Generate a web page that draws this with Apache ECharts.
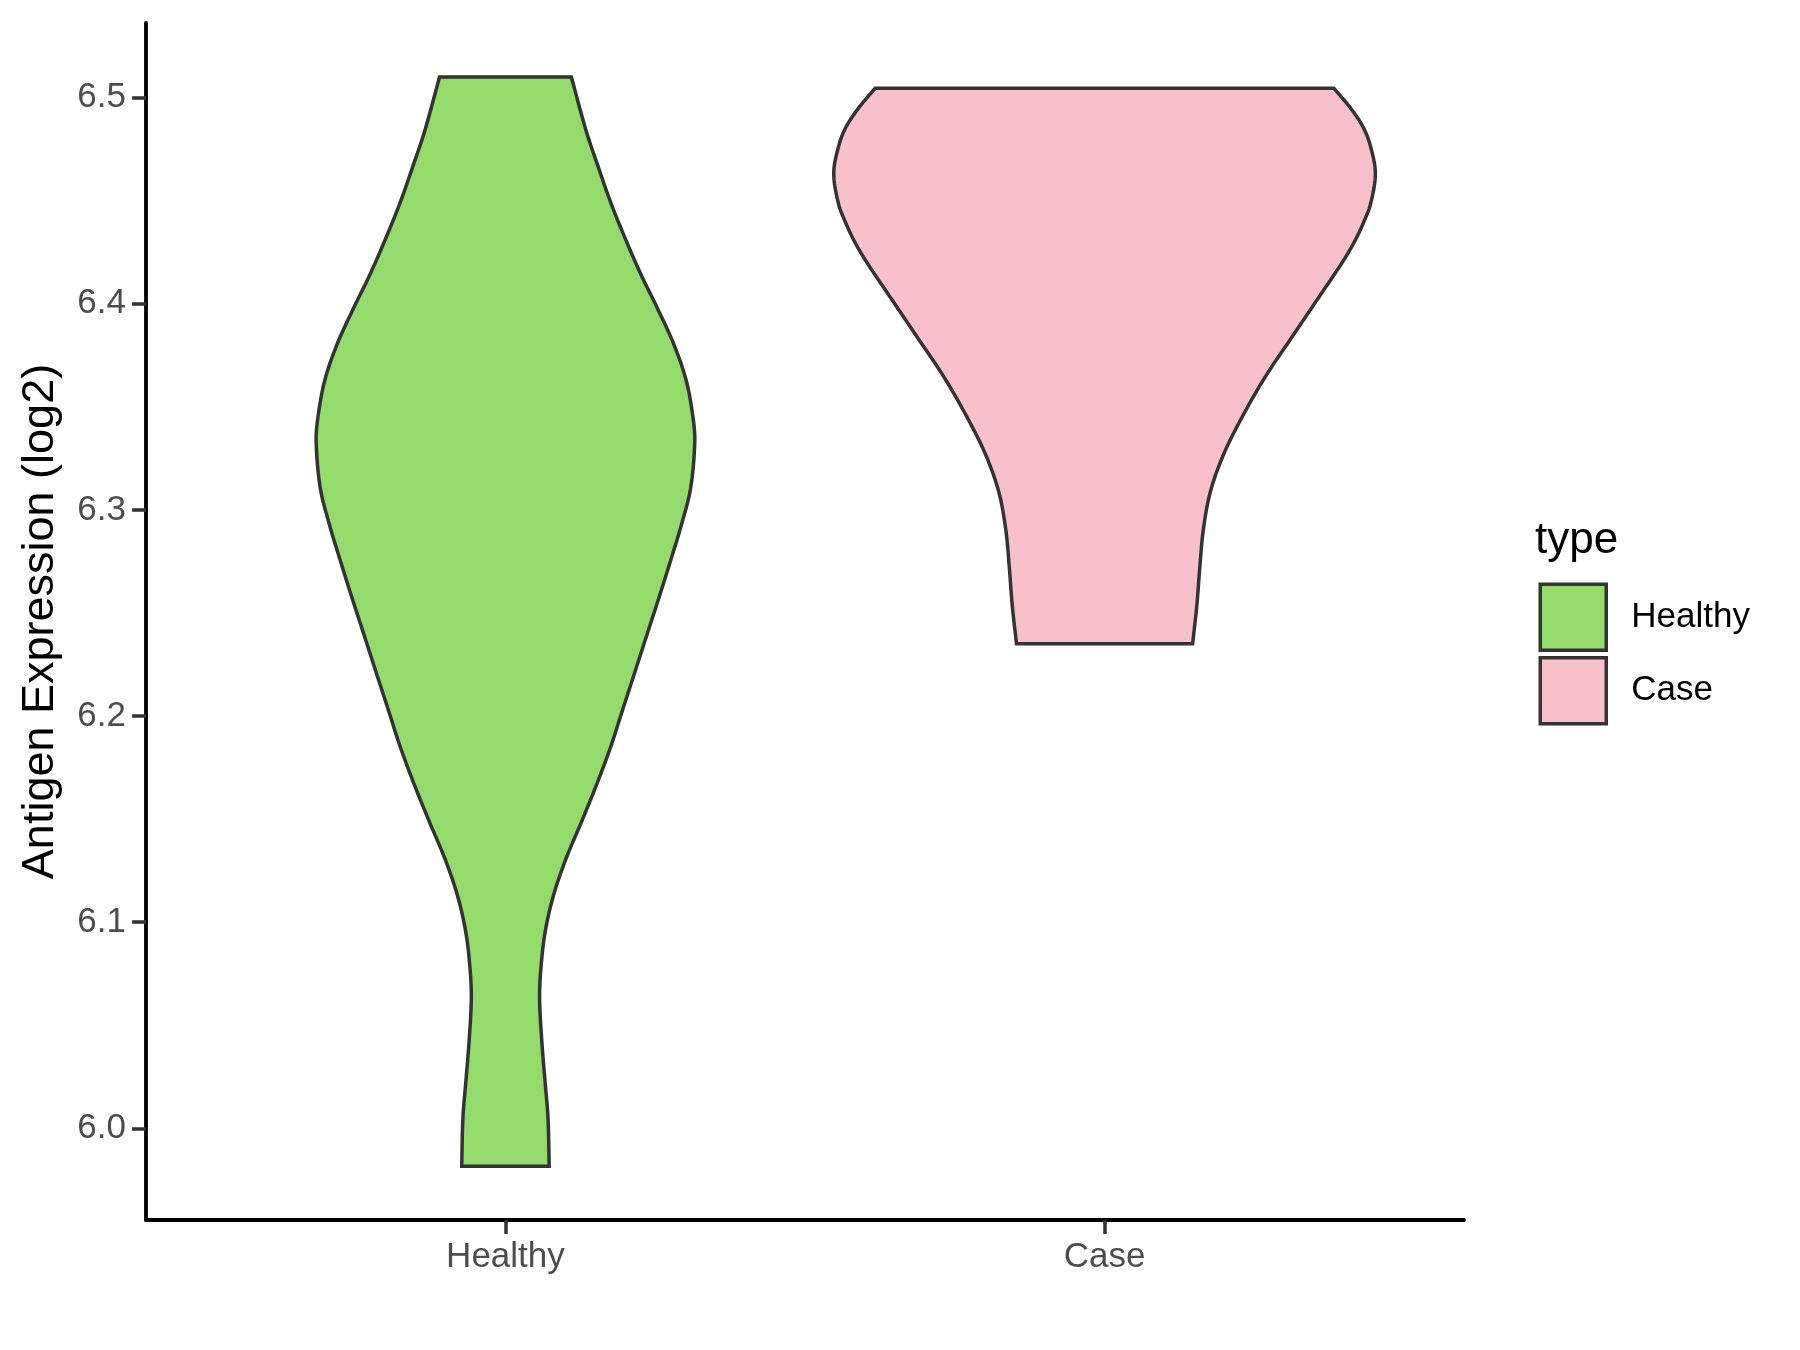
<!DOCTYPE html>
<html>
<head>
<meta charset="utf-8">
<script src="https://cdn.jsdelivr.net/npm/echarts@6/dist/echarts.min.js"></script>
<style>
html,body{margin:0;padding:0;background:#fff;}
#chart{width:1800px;height:1350px;}
</style>
</head>
<body>
<div id="chart"></div>
<script>
// ---- data ----
const categories = ['Healthy', 'Case'];
const groupColors = ['#93DB6B', '#F7C0CB'];
const yTicks = [6.0, 6.1, 6.2, 6.3, 6.4, 6.5];

// Healthy violin outline: y value and half-width (in category units)
const healthyY = [6.510, 6.4836, 6.4663, 6.4489, 6.4316, 6.4143, 6.3970, 6.3797, 6.3624, 6.3450, 6.3329, 6.3104, 6.2930, 6.2757, 6.2563, 6.2384, 6.2204, 6.2025, 6.1845, 6.1666, 6.1487, 6.1307, 6.1128, 6.0948, 6.0769, 6.0625, 6.0410, 6.0230, 6.0051, 5.9816];
const healthyHalfWidth = [0.110, 0.135, 0.155, 0.176, 0.200, 0.226, 0.255, 0.282, 0.302, 0.313, 0.316, 0.309, 0.294, 0.276, 0.255, 0.235, 0.215, 0.195, 0.175, 0.152, 0.127, 0.101, 0.080, 0.066, 0.059, 0.057, 0.061, 0.066, 0.071, 0.073];

// Case violin outline
const caseY = [6.5045, 6.4948, 6.4855, 6.4763, 6.4633, 6.4484, 6.4392, 6.4300, 6.4206, 6.4020, 6.3835, 6.3649, 6.3463, 6.3278, 6.3092, 6.2907, 6.2721, 6.2535, 6.2350];
const caseHalfWidth = [0.383, 0.411, 0.432, 0.444, 0.452, 0.444, 0.432, 0.417, 0.398, 0.355, 0.312, 0.269, 0.232, 0.200, 0.177, 0.165, 0.159, 0.154, 0.147];

const profiles = [
  {y: healthyY, w: healthyHalfWidth},
  {y: caseY, w: caseHalfWidth}
];

// ---- rendering helper: smooth cubic Hermite through the read outline (render only) ----
function smoothOutline(ys, ws, seg) {
  const n = ys.length;
  const m = [];
  for (let i = 0; i < n; i++) {
    if (i === 0) m.push((ws[1] - ws[0]) / (ys[1] - ys[0]));
    else if (i === n - 1) m.push((ws[n - 1] - ws[n - 2]) / (ys[n - 1] - ys[n - 2]));
    else m.push((ws[i + 1] - ws[i - 1]) / (ys[i + 1] - ys[i - 1]));
  }
  const out = [];
  for (let i = 0; i < n - 1; i++) {
    const h = ys[i + 1] - ys[i];
    for (let s = 0; s < seg; s++) {
      const t = s / seg, t2 = t * t, t3 = t2 * t;
      const h00 = 2 * t3 - 3 * t2 + 1, h10 = t3 - 2 * t2 + t, h01 = -2 * t3 + 3 * t2, h11 = t3 - t2;
      out.push([ys[i] + h * t, h00 * ws[i] + h10 * h * m[i] + h01 * ws[i + 1] + h11 * h * m[i + 1]]);
    }
  }
  out.push([ys[n - 1], ws[n - 1]]);
  return out;
}

function makeRender(gi) {
  return function (params, api) {
    const pr = profiles[gi];
    const c = gi + 1;
    const pts = smoothOutline(pr.y, pr.w, 12);
    const right = pts.map(p => api.coord([c + p[1], p[0]]));
    const left = pts.map(p => api.coord([c - p[1], p[0]])).reverse();
    return {
      type: 'polygon',
      shape: {points: right.concat(left)},
      style: {fill: groupColors[gi], stroke: '#333333', lineWidth: 3.5, lineJoin: 'miter'}
    };
  };
}

const FONT = '"Liberation Sans", Arial, sans-serif';

const chart = echarts.init(document.getElementById('chart'), null, {renderer: 'canvas'});
chart.setOption({
  animation: false,
  backgroundColor: '#ffffff',
  textStyle: {fontFamily: FONT},
  grid: {left: 146, right: 336, top: 23, bottom: 130, containLabel: false},
  title: {
    text: 'type', left: 1535, top: 519, padding: 0,
    textStyle: {fontFamily: FONT, fontSize: 44, fontWeight: 'normal', color: '#000'}
  },
  legend: {
    orient: 'vertical', left: 1538.5, top: 582.5, padding: 0,
    icon: 'rect', itemWidth: 66, itemHeight: 66, itemGap: 4,
    data: categories,
    itemStyle: {borderColor: '#333333', borderWidth: 3.5},
    textStyle: {fontFamily: FONT, fontSize: 35, color: '#000', padding: [0, 0, 0, 20]},
    selectedMode: false
  },
  xAxis: {
    type: 'value', min: 0.4, max: 2.6,
    splitLine: {show: false},
    axisLine: {show: true, lineStyle: {color: '#000', width: 3.8}},
    axisTick: {show: true, length: 14, customValues: [1, 2], lineStyle: {color: '#333', width: 3.5}},
    axisLabel: {
      customValues: [1, 2], margin: 20, fontSize: 35, color: '#4D4D4D', fontFamily: FONT,
      formatter: v => categories[Math.round(v) - 1]
    }
  },
  yAxis: {
    type: 'value', min: 5.9555, max: 6.5362,
    name: 'Antigen Expression (log2)', nameLocation: 'middle', nameGap: 83,
    nameTextStyle: {fontSize: 45, color: '#000', fontFamily: FONT},
    splitLine: {show: false},
    axisLine: {show: true, lineStyle: {color: '#000', width: 3.8}},
    axisTick: {show: true, length: 14, customValues: yTicks, lineStyle: {color: '#333', width: 3.5}},
    axisLabel: {
      customValues: yTicks, margin: 20, fontSize: 35, color: '#4D4D4D', fontFamily: FONT,
      formatter: v => v.toFixed(1)
    }
  },
  series: categories.map((name, gi) => ({
    type: 'custom', name: name,
    coordinateSystem: 'cartesian2d',
    itemStyle: {color: groupColors[gi], borderColor: '#333333', borderWidth: 3.5},
    renderItem: makeRender(gi),
    data: [[gi + 1, profiles[gi].y[0]]],
    encode: {x: 0, y: 1},
    clip: false
  }))
});
</script>
</body>
</html>
